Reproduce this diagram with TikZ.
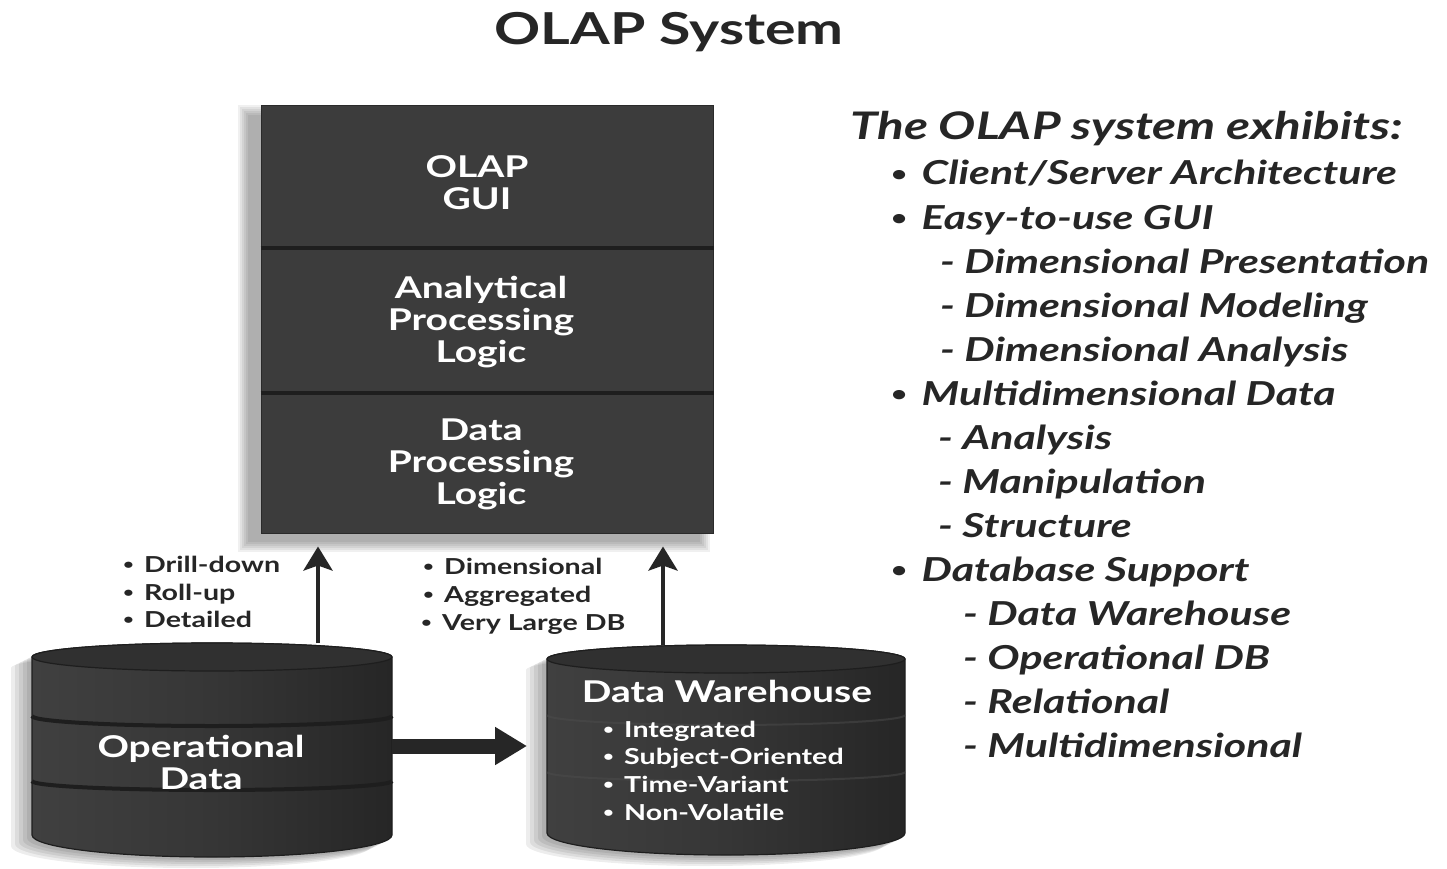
\documentclass[tikz,border=0pt]{standalone}
\usepackage{fontspec}
\usepackage{graphicx}
\setmainfont{Lato}[FakeStretch=1.3]
\usetikzlibrary{arrows.meta}
\definecolor{boxc}{HTML}{3C3C3C}
\definecolor{edgec}{HTML}{2A2A2A}
\definecolor{divc}{HTML}{1E1E1E}
\definecolor{cylA}{HTML}{404040}
\definecolor{cylM}{HTML}{363636}
\definecolor{cylB}{HTML}{262626}
\definecolor{cyltop}{HTML}{303030}
\definecolor{inkc}{HTML}{262626}
\newcommand\bul{\raisebox{0.1em}{\scalebox{0.65}{•}}\hspace{0.15em}}
\newcommand\cylbody[6]{%
 (#1,#3) -- (#1,#4) .. controls (#1,{#4+0.5523*#6}) and ({(#1+#2)/2-0.5523*(#2-#1)/2},{#4+#6}) .. ({(#1+#2)/2},{#4+#6}) .. controls ({(#1+#2)/2+0.5523*(#2-#1)/2},{#4+#6}) and (#2,{#4+0.5523*#6}) .. (#2,#4) -- (#2,#3) .. controls (#2,{#3-0.5523*#5}) and ({(#1+#2)/2+0.5523*(#2-#1)/2},{#3-#5}) .. ({(#1+#2)/2},{#3-#5}) .. controls ({(#1+#2)/2-0.5523*(#2-#1)/2},{#3-#5}) and (#1,{#3-0.5523*#5}) .. (#1,#3) -- cycle}
\newcommand\sagline[4]{% x1 x2 y sag
 (#1,#3) .. controls (#1,{#3+0.5523*#4}) and ({(#1+#2)/2-0.5523*(#2-#1)/2},{#3+#4}) .. ({(#1+#2)/2},{#3+#4}) .. controls ({(#1+#2)/2+0.5523*(#2-#1)/2},{#3+#4}) and (#2,{#3+0.5523*#4}) .. (#2,#3)}
\begin{document}
\begin{tikzpicture}[x=1pt,y=-1pt,
  layer/.style={draw=edgec, line width=1pt, fill=boxc, minimum width=452pt, inner sep=0pt},
  boxtext/.style={text=white, font=\bfseries\fontsize{30}{32}\selectfont, align=center, inner sep=0pt},
  cyltext/.style={text=white, font=\bfseries\fontsize{30}{32}\selectfont, align=center, inner sep=0pt},
  dwitem/.style={text=white, font=\bfseries\fontsize{22}{28}\selectfont, anchor=base west, inner sep=0pt},
  smalllabel/.style={text=inkc, font=\bfseries\fontsize{22}{28}\selectfont, anchor=base west, inner sep=0pt},
  listtext/.style={text=inkc, font=\bfseries\itshape\fontsize{33}{44}\selectfont, anchor=base west, inner sep=0pt},
  uparrow/.style={draw=inkc, line width=4.5pt, -{Stealth[length=24pt,width=29pt,inset=5pt]}},
  bigarrow/.style={draw=inkc, line width=15pt, -{Triangle[length=32pt,width=36pt]}}
]
\useasboundingbox (0,0) rectangle (1447,869);
\fill[white] (0,0) rectangle (1447,869);

% title
\node[anchor=base, inner sep=0pt, text=inkc, font=\bfseries\fontsize{44}{48}\selectfont] (title) at (669,45) {OLAP System};

% stack shadow
\foreach \g in {0,2,4,6,8,10}
  \fill[black, opacity=0.06] ({261-13-\g},{106+9-\g}) rectangle ({713-13+\g},{533+9+\g});

% stack
\node[layer, minimum height=141pt] (gui) at (487,176.5) {};
\node[layer, minimum height=145pt] (apl) at (487,319.5) {};
\node[layer, minimum height=141pt] (dpl) at (487,462.5) {};
\draw[divc, line width=4pt] (gui.south west) -- (gui.south east);
\draw[divc, line width=4pt] (apl.south west) -- (apl.south east);
\node[boxtext] (guit) at ([xshift=-10pt,yshift=-6pt]gui.center) {OLAP\\GUI};
\node[boxtext] (aplt) at ([xshift=-6pt,yshift=-3pt]apl.center) {Analytical\\Processing\\Logic};
\node[boxtext] (dplt) at ([xshift=-6pt,yshift=-2pt]dpl.center) {Data\\Processing\\Logic};

% cylinder shadows
\foreach \sx/\sy in {-5/3,-9/5,-13/7,-17/9,-21/11}{
  \begin{scope}[shift={(\sx,\sy)}]
    \fill[black, opacity=0.07] \cylbody{32}{392}{657}{835}{14}{22};
    \fill[black, opacity=0.07] \cylbody{547}{905}{659}{833}{14}{22};
  \end{scope}
}

% cylinder 1: operational data
\shade[left color=cylA, right color=cylB, middle color=cylM] \cylbody{32}{392}{657}{835}{14}{22};
\draw[divc, line width=1.2pt] \cylbody{32}{392}{657}{835}{14}{22};
\draw[divc, line width=4pt] \sagline{32}{392}{716}{10};
\draw[divc, line width=4pt] \sagline{32}{392}{781}{9};
\fill[cyltop] (212,657) ellipse [x radius=180, y radius=14];
\draw[divc, line width=1.2pt] (212,657) ellipse [x radius=180, y radius=14];

% cylinder 2: data warehouse
\shade[left color=cylA, right color=cylB, middle color=cylM] \cylbody{547}{905}{659}{833}{14}{22};
\draw[divc, line width=1.2pt] \cylbody{547}{905}{659}{833}{14}{22};
\draw[black!70, opacity=0.5, line width=2pt] \sagline{547}{905}{715}{10};
\draw[black!70, opacity=0.5, line width=2pt] \sagline{547}{905}{772}{9};
\fill[cyltop] (726,659) ellipse [x radius=179, y radius=14];
\draw[divc, line width=1.2pt] (726,659) ellipse [x radius=179, y radius=14];

% cylinder texts
\node[cyltext] (op) at (201,762) {Operational\\Data};
\node[cyltext, anchor=base] (dw) at (727,702) {Data Warehouse};
\node[dwitem] (dw1) at (603,737) {\bul\ Integrated};
\node[dwitem] (dw2) at (603,764) {\bul\ Subject-Oriented};
\node[dwitem] (dw3) at (603,792) {\bul\ Time-Variant};
\node[dwitem] (dw4) at (603,820) {\bul\ Non-Volatile};

% connectors
\coordinate (c1) at (318,643);
\coordinate (c2) at (663,645);
\draw[uparrow, shorten >=13pt] (c1) -- (c1 |- dpl.south);
\draw[uparrow, shorten >=13pt] (c2) -- (c2 |- dpl.south);
\coordinate (opE) at (392,746);
\coordinate (dwW) at (547,746);
\draw[bigarrow, shorten >=20pt] (opE) -- (dwW);

% arrow labels
\node[smalllabel] (l1) at (123,572) {\bul\ Drill-down};
\node[smalllabel] (l2) at (123,600) {\bul\ Roll-up};
\node[smalllabel] (l3) at (123,627) {\bul\ Detailed};
\node[smalllabel] (m1) at (423,574) {\bul\ Dimensional};
\node[smalllabel] (m2) at (423,602) {\bul\ Aggregated};
\node[smalllabel] (m3) at (421,630) {\bul\ Very Large DB};

% right list
\node[listtext, font=\bfseries\itshape\fontsize{38}{44}\selectfont] (h0) at (850,140) {The OLAP system exhibits:};
\node[listtext] (b1) at (891,185) {\bul\ Client/Server Architecture};
\node[listtext] (b2) at (891,229) {\bul\ Easy-to-use GUI};
\node[listtext] (s1) at (940,273) {- Dimensional Presentation};
\node[listtext] (s2) at (940,317) {- Dimensional Modeling};
\node[listtext] (s3) at (940,361) {- Dimensional Analysis};
\node[listtext] (b3) at (891,405) {\bul\ Multidimensional Data};
\node[listtext] (t1) at (938,449) {- Analysis};
\node[listtext] (t2) at (938,493) {- Manipulation};
\node[listtext] (t3) at (938,537) {- Structure};
\node[listtext] (b4) at (891,581) {\bul\ Database Support};
\node[listtext] (u1) at (963,625) {- Data Warehouse};
\node[listtext] (u2) at (963,669) {- Operational DB};
\node[listtext] (u3) at (963,713) {- Relational};
\node[listtext] (u4) at (963,757) {- Multidimensional};
\end{tikzpicture}
\end{document}
